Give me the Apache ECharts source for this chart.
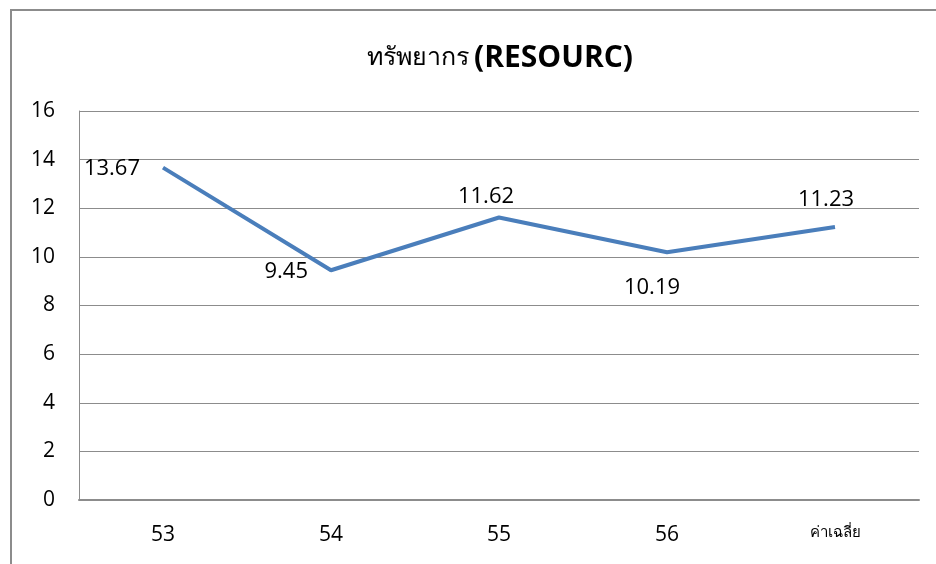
<!DOCTYPE html>
<html>
<head>
<meta charset="utf-8">
<script src="https://cdn.jsdelivr.net/npm/echarts@6/dist/echarts.min.js"></script>
<style>
  html, body { margin: 0; padding: 0; background: #fff; }
  #frame {
    position: absolute; left: 10px; top: 9px; width: 940px; height: 570px;
    border-left: 2px solid #8c8c8c; border-top: 2px solid #8c8c8c;
  }
  #chart { position: absolute; left: 0; top: 0; width: 936px; height: 564px; }
</style>
</head>
<body>
<div id="frame"></div>
<div id="chart"></div>
<script>
const categories = ['53', '54', '55', '56', 'ค่าเฉลี่ย']
const values = [13.67, 9.45, 11.62, 10.19, 11.23]

// label placement per point, as in the source sheet
const labelPositions = ['left', 'left', 'top', 'bottom', 'top']
const labelDistances = [23, 23, 10, 24, 16]
const labelOffsets = [[0, 1], [0, 1], [-13, 0], [-15, 0], [-9, 0]]

const lineColor = '#4a7ebb'
const gridColor = '#8c8c8c'
const font = '"Open Sans", "Noto Sans", sans-serif'

const chart = echarts.init(document.getElementById('chart'))
chart.setOption({
  animation: false,
  backgroundColor: 'transparent',
  title: {
    text: '{th|ทรัพยากร} {en|(RESOURC)}',
    left: 495,
    top: 38,
    textAlign: 'center',
    textStyle: {
      rich: {
        th: { fontSize: 25, color: '#000', fontFamily: font, fontWeight: 'normal' },
        en: { fontSize: 30, color: '#000', fontFamily: font, fontWeight: 'bold' },
      },
    },
  },
  grid: { left: 79, right: 17, top: 111, bottom: 64 },
  xAxis: {
    type: 'category',
    data: categories,
    axisLine: { lineStyle: { color: gridColor, width: 2 } },
    axisTick: { show: false },
    axisLabel: {
      color: '#000', fontSize: 21, fontFamily: font, margin: 25,
      formatter: (v) => v === 'ค่าเฉลี่ย' ? '{s|' + v + '}' : v,
      rich: { s: { fontSize: 15, color: '#000', fontFamily: font } },
    },
  },
  yAxis: {
    type: 'value',
    min: 0,
    max: 16,
    interval: 2,
    axisLine: { show: true, lineStyle: { color: gridColor, width: 1 } },
    axisTick: { show: false },
    splitLine: { lineStyle: { color: gridColor, width: 1 } },
    axisLabel: { color: '#000', fontSize: 21, fontFamily: font, margin: 24 },
  },
  series: [
    {
      type: 'line',
      data: values.map((v, i) => ({
        value: v,
        label: {
          position: labelPositions[i],
          distance: labelDistances[i],
          offset: labelOffsets[i],
        },
      })),
      symbol: 'circle',
      symbolSize: 0,
      showSymbol: true,
      lineStyle: { color: lineColor, width: 4 },
      label: {
        show: true,
        color: '#000',
        fontSize: 22,
        fontFamily: font,
        formatter: (p) => p.value.toFixed(2),
      },
    },
  ],
})
</script>
</body>
</html>
